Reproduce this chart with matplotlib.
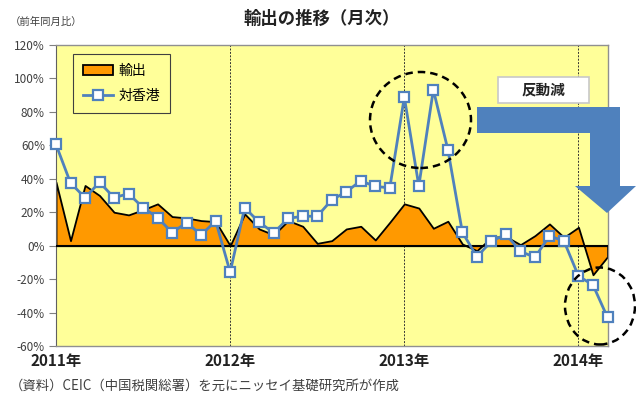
import matplotlib
matplotlib.use("Agg")
import matplotlib.pyplot as plt
from matplotlib.patches import Ellipse, Polygon, Rectangle

plt.rcParams['font.family'] = ['Noto Sans CJK JP', 'DejaVu Sans']

# monthly data, Jan 2011 - Mar 2014 (year-on-year %)
months = list(range(39))
exports = [38, 3, 36, 30, 20, 18.4, 21.5, 25, 17.4, 16.6, 15, 14.4,
           0, 19, 10, 6.5, 15, 11.6, 1.4, 3, 10, 11.6, 3.4, 14,
           25, 22.5, 10.4, 14.6, 1, -3, 5, 5.5, 0.6, 6, 13, 5,
           11, -17.4, -6.6]
hongkong = [60.5, 37.5, 28.7, 37.9, 28.7, 31.1, 22.7, 16.8, 7.8, 13.8, 6.4, 14.8,
            -15.8, 22.7, 14.0, 7.7, 16.3, 17.6, 17.6, 27.4, 32.2, 38.8, 35.4, 34.6,
            88.8, 35.7, 93.2, 57.5, 8.0, -6.6, 2.6, 6.8, -3.4, -7.0, 5.8, 2.8,
            -18.2, -23.5, -42.9]
year_pos = [0, 12, 24, 36]
year_labels = ['2011年', '2012年', '2013年', '2014年']
yticks = list(range(-60, 121, 20))

W, H = 636, 397
fig = plt.figure(figsize=(W / 100, H / 100), dpi=100)
fig.patch.set_facecolor('white')

def fx(px):
    return px / W

def fy(py):
    return 1 - py / H

ax = fig.add_axes([fx(56), fy(346), fx(607.5) - fx(56), fy(45) - fy(346)])
ax.set_facecolor('#FFFF99')

# year separators
for p in year_pos[1:]:
    ax.axvline(p, color='#333333', lw=0.7, ls=(0, (2, 1.5)), zorder=1)

ax.fill_between(months, exports, 0, facecolor='#FF9900', edgecolor='black',
                lw=1.3, label='輸出', zorder=2)
ax.axhline(0, color='black', lw=1.5, zorder=3)
ax.plot(months, hongkong, color='#4F81BD', lw=2, marker='s', markersize=6.5,
        markerfacecolor='white', markeredgecolor='#4F81BD', markeredgewidth=1.6,
        label='対香港', zorder=4, clip_on=False)

ax.set_xlim(0, 38)
ax.set_ylim(-60, 120)
ax.set_yticks(yticks)
ax.set_yticklabels([f'{v}%' for v in yticks], color='#404040', fontsize=8.5)
ax.tick_params(axis='y', direction='out', length=5, color='#808080', pad=3)
ax.set_xticks(year_pos)
ax.set_xticklabels(year_labels, fontsize=11, fontweight='bold', color='#222222')
ax.tick_params(axis='x', length=0, pad=5)
for side in ['top', 'right', 'bottom']:
    ax.spines[side].set_color('#909090')
    ax.spines[side].set_linewidth(1)
ax.spines['left'].set_color('#606060')

leg = ax.legend(loc='upper left', bbox_to_anchor=(0.031, 0.97), borderaxespad=0,
                fancybox=False, framealpha=1, facecolor='#FFFF99',
                edgecolor='#404040', fontsize=10, handlelength=2.2,
                labelspacing=0.8, borderpad=0.7, handletextpad=0.4)
leg.get_frame().set_linewidth(0.8)

# dashed rings around the 2013 spike and the latest drop
ax.add_patch(Ellipse((fx(420.5), fy(120)), fx(101), 96 / H, transform=fig.transFigure,
                     fill=False, ls=(0, (3, 2)), lw=1.8, color='black', zorder=5,
                     clip_on=False))
ax.add_patch(Ellipse((fx(600), fy(306)), fx(70), 77 / H, transform=fig.transFigure,
                     fill=False, ls=(0, (3, 2)), lw=1.8, color='black', zorder=5,
                     clip_on=False))

# bent arrow
arrow = [(477, 107), (620, 107), (620, 186), (636, 186), (607, 213),
         (575, 186), (590, 186), (590, 133), (477, 133)]
fig.patches.append(Polygon([(fx(a), fy(b)) for a, b in arrow], closed=True,
                           transform=fig.transFigure, facecolor='#4F81BD',
                           edgecolor='none', zorder=6))
fig.patches.append(Rectangle((fx(498), fy(103)), fx(91), 26 / H,
                             transform=fig.transFigure, facecolor='white',
                             edgecolor='#C8C8C8', lw=1.2, zorder=6))
fig.text(fx(543.5), fy(90), '反動減', ha='center', va='center', fontsize=10.5,
         fontweight='bold', color='#222222', zorder=7)

fig.text(fx(322), fy(19), '輸出の推移（月次）', ha='center', va='center',
         fontsize=12.5, fontweight='bold', color='#222222')
fig.text(fx(10), fy(22), '（前年同月比）', ha='left', va='center', fontsize=7.5,
         color='#404040')
fig.text(fx(10), fy(386), '（資料）CEIC（中国税関総署）を元にニッセイ基礎研究所が作成',
         ha='left', va='center', fontsize=9.6, color='#404040')

fig.savefig('out.png', dpi=100)
